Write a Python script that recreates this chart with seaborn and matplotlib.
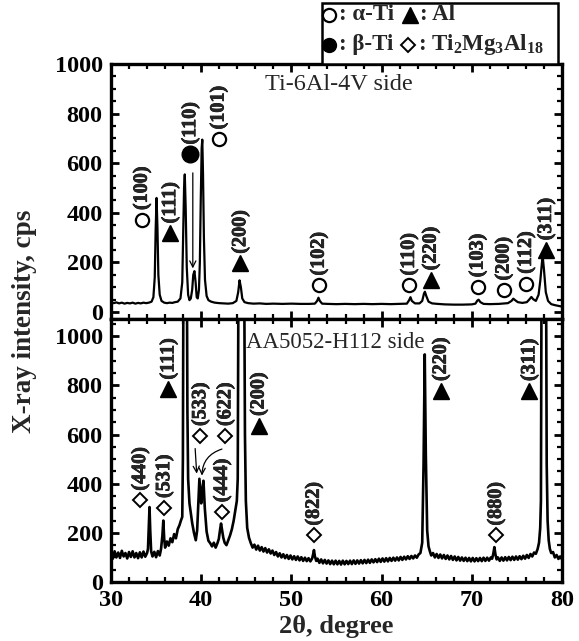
import matplotlib
matplotlib.use("Agg")
import matplotlib.pyplot as plt
from matplotlib.ticker import MultipleLocator
from matplotlib.patches import Rectangle
from matplotlib.lines import Line2D
import matplotlib.patheffects as pe
import seaborn as sns

# ---------------- data ----------------
ti_2theta = [30.0, 30.3, 30.6, 30.9, 31.2, 31.5, 31.8, 32.1, 32.4, 32.7, 33.0, 33.3, 33.6, 33.9,
             34.2, 34.5, 34.7, 34.85, 34.95, 35.05, 35.15, 35.25, 35.4, 35.6, 35.9, 36.2, 36.5,
             36.8, 37.1, 37.4, 37.7, 37.9, 38.0, 38.1, 38.18, 38.28, 38.4, 38.55, 38.7, 38.85,
             39.0, 39.12, 39.25, 39.38, 39.5, 39.62, 39.75, 39.85, 39.95, 40.05, 40.12, 40.2,
             40.3, 40.42, 40.6, 40.8, 41.1, 41.5, 42.0, 42.5, 43.0, 43.5, 43.9, 44.1, 44.25,
             44.4, 44.55, 44.8, 45.2, 45.8, 46.5, 47.2, 48.0, 49.0, 50.0, 51.0, 52.0, 52.6,
             52.85, 53.0, 53.15, 53.4, 54.0, 55.0, 56.0, 57.0, 58.0, 59.0, 60.0, 61.0, 62.0,
             62.8, 63.05, 63.2, 63.35, 63.7, 64.2, 64.5, 64.7, 64.8, 64.95, 65.2, 65.6, 66.2,
             67.0, 68.0, 69.0, 70.0, 70.4, 70.6, 70.75, 70.95, 71.3, 72.0, 73.0, 74.0, 74.4,
             74.6, 74.8, 75.1, 75.6, 76.1, 76.4, 76.6, 76.8, 77.1, 77.4, 77.6, 77.8, 77.88,
             78.0, 78.2, 78.45, 78.8, 79.2, 79.6, 80.0]
ti_counts = [40, 36, 39, 35, 38, 34, 37, 35, 38, 34, 37, 35, 38, 36,
             38, 42, 60, 140, 330, 460, 340, 150, 70, 45, 38, 36, 38,
             37, 40, 42, 55, 120, 300, 500, 555, 420, 180, 70, 48, 55,
             90, 150, 165, 120, 60, 55, 90, 200, 450, 660, 695, 560,
             300, 130, 65, 48, 42, 38, 36, 35, 34, 36, 45, 80, 128,
             100, 55, 40, 36, 34, 35, 33, 34, 33, 34, 33, 33, 34,
             45, 58, 45, 34, 33, 32, 33, 32, 33, 32, 33, 32, 33,
             34, 48, 60, 45, 35, 35, 45, 75, 82, 65, 42, 35, 33,
             31, 30, 30, 31, 34, 46, 50, 40, 33, 32, 33, 36, 45,
             54, 48, 40, 37, 40, 52, 61, 52, 45, 70, 130, 210, 216,
             170, 80, 45, 32, 28, 25, 22]

aa_2theta = [30.0, 30.2, 30.4, 30.6, 30.8, 31.0, 31.2, 31.4, 31.6, 31.8, 32.0, 32.2, 32.4, 32.6,
             32.8, 33.0, 33.2, 33.4, 33.6, 33.8, 34.0, 34.1, 34.2, 34.27, 34.35, 34.45, 34.6,
             34.8, 35.0, 35.2, 35.4, 35.55, 35.7, 35.8, 35.9, 36.0, 36.2, 36.4, 36.6, 36.8,
             37.0, 37.2, 37.4, 37.6, 37.75, 37.9, 37.97, 38.02, 38.22, 38.42, 38.47, 38.55,
             38.7, 38.85, 39.0, 39.2, 39.4, 39.55, 39.7, 39.8, 39.9, 40.0, 40.1, 40.25, 40.4,
             40.6, 40.8, 41.0, 41.2, 41.4, 41.6, 41.8, 41.95, 42.1, 42.2, 42.3, 42.45, 42.6,
             42.8, 43.0, 43.2, 43.4, 43.6, 43.8, 43.95, 44.05, 44.12, 44.45, 44.78, 44.85,
             44.95, 45.1, 45.3, 45.5, 45.7, 45.9, 46.1, 46.3, 46.5, 46.7, 46.9, 47.1, 47.3,
             47.5, 47.7, 47.9, 48.1, 48.3, 48.5, 48.7, 48.9, 49.1, 49.3, 49.5, 49.7, 49.9,
             50.1, 50.3, 50.5, 50.7, 50.9, 51.1, 51.3, 51.5, 51.7, 51.9, 52.1, 52.3, 52.42,
             52.5, 52.6, 52.75, 52.9, 53.1, 53.3, 53.5, 53.7, 53.9, 54.1, 54.3, 54.5, 54.7,
             54.9, 55.1, 55.3, 55.5, 55.7, 55.9, 56.1, 56.3, 56.5, 56.7, 56.9, 57.1, 57.3,
             57.5, 57.7, 57.9, 58.1, 58.3, 58.5, 58.7, 58.9, 59.1, 59.3, 59.5, 59.7, 59.9,
             60.1, 60.3, 60.5, 60.7, 60.9, 61.1, 61.3, 61.5, 61.7, 61.9, 62.1, 62.3, 62.5,
             62.7, 62.9, 63.1, 63.3, 63.5, 63.7, 63.9, 64.1, 64.3, 64.5, 64.65, 64.78, 64.9,
             65.05, 65.2, 65.35, 65.5, 65.7, 65.9, 66.1, 66.3, 66.5, 66.7, 66.9, 67.1, 67.3,
             67.5, 67.7, 67.9, 68.1, 68.3, 68.5, 68.7, 68.9, 69.1, 69.3, 69.5, 69.7, 69.9,
             70.1, 70.3, 70.5, 70.7, 70.9, 71.1, 71.3, 71.5, 71.7, 71.9, 72.1, 72.25, 72.38,
             72.5, 72.62, 72.75, 72.9, 73.1, 73.3, 73.5, 73.7, 73.9, 74.1, 74.3, 74.5, 74.7,
             74.9, 75.1, 75.3, 75.5, 75.7, 75.9, 76.1, 76.3, 76.5, 76.7, 76.9, 77.1, 77.3,
             77.45, 77.58, 77.66, 77.72, 77.98, 78.24, 78.3, 78.4, 78.52, 78.65, 78.8, 79.0,
             79.2, 79.4, 79.6, 79.8, 80.0]
aa_counts = [115, 95, 125, 100, 120, 98, 127, 104, 118, 96, 122, 102, 125, 100,
             118, 97, 121, 100, 124, 103, 118, 135, 230, 305, 210, 125, 104,
             123, 101, 126, 108, 135, 190, 250, 175, 140, 165, 148, 178, 162,
             195, 178, 215, 232, 250, 265, 500, 1150, 3200, 1150, 700, 420,
             320, 280, 240, 200, 170, 210, 340, 420, 370, 320, 370, 412, 300,
             205, 168, 158, 145, 160, 140, 158, 175, 215, 238, 215, 180, 160,
             150, 170, 190, 215, 250, 295, 330, 420, 1150, 3200, 1150, 600,
             330, 220, 180, 158, 140, 152, 132, 148, 128, 142, 124, 138, 120,
             133, 116, 128, 110, 122, 104, 117, 100, 113, 97, 110, 94, 108,
             92, 105, 90, 104, 88, 101, 86, 99, 85, 97, 84, 96, 115,
             130, 105, 86, 95, 78, 92, 76, 90, 75, 88, 73, 87, 72,
             87, 72, 86, 71, 87, 72, 86, 73, 87, 73, 88, 74, 88,
             75, 89, 76, 90, 77, 91, 78, 92, 80, 93, 81, 95, 82,
             96, 83, 97, 84, 98, 86, 99, 87, 100, 88, 102, 90, 103,
             92, 105, 94, 106, 96, 108, 99, 112, 118, 160, 480, 926, 520,
             210, 145, 125, 108, 118, 100, 114, 98, 112, 96, 110, 94, 108,
             92, 106, 90, 104, 88, 102, 87, 100, 86, 99, 85, 98, 84,
             98, 84, 97, 85, 98, 85, 99, 86, 99, 87, 100, 95, 115,
             142, 112, 92, 100, 86, 100, 87, 101, 88, 102, 89, 103, 90,
             104, 91, 105, 93, 107, 95, 110, 98, 114, 104, 120, 115, 135,
             160, 220, 330, 1150, 3200, 1150, 480, 250, 170, 135, 118, 122,
             100, 110, 94, 104, 92]

# peak identifications (top: Ti-6Al-4V side)
ti_mark_x = [33.41, 36.56, 38.78, 41.92, 44.33, 53.03, 63.03, 65.44, 70.63, 73.52, 76.0, 78.22]
ti_mark_y = [372, 318, 636, 697, 196, 108, 108, 129, 101, 88, 115, 250]
ti_mark_phase = ["alpha", "Al", "beta", "alpha", "Al", "alpha", "alpha", "Al", "alpha", "alpha", "alpha", "Al"]
ti_mark_hkl = ["(100)", "(111)", "(110)", "(101)", "(200)", "(102)", "(110)", "(220)", "(103)", "(200)", "(112)", "(311)"]

# peak identifications (bottom: AA5052-H112 side)
aa_mark_x = [33.22, 35.89, 36.37, 39.89, 42.67, 42.3, 46.37, 52.48, 66.56, 72.67, 76.37]
aa_mark_y = [332, 302, 784, 595, 595, 285, 636, 190, 778, 190, 778]
aa_mark_phase = ["TMA", "TMA", "Al", "TMA", "TMA", "TMA", "Al", "TMA", "Al", "TMA", "Al"]
aa_mark_hkl = ["(440)", "(531)", "(111)", "(533)", "(622)", "(444)", "(200)", "(822)", "(220)", "(880)", "(311)"]

# ---------------- style ----------------
sns.set_theme(style="ticks")
plt.rcParams.update({
    "font.family": ["Liberation Serif", "DejaVu Serif"],
    "font.weight": "bold",
    "axes.linewidth": 2.4,
    "axes.edgecolor": "black",
    "xtick.direction": "in", "ytick.direction": "in",
    "xtick.top": True, "ytick.right": True,
    "xtick.major.size": 5.5, "ytick.major.size": 5.5,
    "xtick.minor.size": 3.5, "ytick.minor.size": 3.5,
    "xtick.major.width": 2.0, "ytick.major.width": 2.0,
    "xtick.minor.width": 1.6, "ytick.minor.width": 1.6,
    "xtick.color": "black", "ytick.color": "black",
    "mathtext.fontset": "custom",
    "mathtext.rm": "Liberation Serif:bold",
    "mathtext.bf": "Liberation Serif:bold",
    "mathtext.it": "Liberation Serif:bold:italic",
})

styles = {
    "alpha": dict(marker="o", ms=9.5, mfc="white", mec="black", mew=1.6),
    "beta": dict(marker="o", ms=12, mfc="black", mec="black", mew=1.0),
    "Al": dict(marker="^", ms=11, mfc="black", mec="black", mew=1.0),
    "TMA": dict(marker="D", ms=7.5, mfc="white", mec="black", mew=1.4),
}
heavy = [pe.withStroke(linewidth=0.5, foreground="black")]

fig = plt.figure(figsize=(5.79, 6.41), dpi=100)
ax_top = fig.add_axes([0.1917, 0.5023, 0.779, 0.3979])
ax_bot = fig.add_axes([0.1917, 0.0920, 0.779, 0.4103])

sns.lineplot(x=ti_2theta, y=ti_counts, ax=ax_top, color="black", linewidth=1.6,
             estimator=None, sort=False)
sns.lineplot(x=aa_2theta, y=aa_counts, ax=ax_bot, color="black", linewidth=1.9,
             estimator=None, sort=False)

tick_fs = 17.5
for ax, ylo, yhi in [(ax_top, -28, 1000), (ax_bot, 0, 1070)]:
    ax.set_xlim(30, 80)
    ax.set_ylim(ylo, yhi)
    ax.set_yticks([0, 200, 400, 600, 800, 1000])
    ax.xaxis.set_major_locator(MultipleLocator(10))
    ax.xaxis.set_minor_locator(MultipleLocator(2))
    ax.yaxis.set_minor_locator(MultipleLocator(50))
    ax.tick_params(which="both", direction="in", top=True, right=True, labelsize=tick_fs, pad=6)
    for lab in ax.get_xticklabels() + ax.get_yticklabels():
        lab.set_fontweight("bold")
    ax.set_xlabel("")
    ax.set_ylabel("")
    for s in ax.spines.values():
        s.set_linewidth(2.4)
        s.set_zorder(5)
ax_top.tick_params(labelbottom=False)
ax_bot.set_xticks([30, 40, 50, 60, 70, 80])


def annotate(ax, xs, ys, phases, labels):
    for x, y, p, lab in zip(xs, ys, phases, labels):
        ax.plot([x], [y], linestyle="none", zorder=4, clip_on=False, **styles[p])
        ax.annotate(lab, xy=(x, y), xytext=(0, 7.0), textcoords="offset points",
                    rotation=90, ha="center", va="bottom", fontsize=14.5,
                    fontweight="bold", zorder=4, path_effects=heavy)


annotate(ax_top, ti_mark_x, ti_mark_y, ti_mark_phase, ti_mark_hkl)
annotate(ax_bot, aa_mark_x, aa_mark_y, aa_mark_phase, aa_mark_hkl)

arrow_kw = dict(arrowstyle="->", lw=0.9, color="black", shrinkA=0, shrinkB=0, mutation_scale=11)
ax_top.annotate("", xy=(39.07, 176), xytext=(39.07, 561), arrowprops=arrow_kw)
ax_bot.annotate("", xy=(39.5, 441), xytext=(39.33, 543), arrowprops=arrow_kw)
ax_bot.annotate("", xy=(40.08, 433), xytext=(42.3, 541),
                arrowprops=dict(arrow_kw, connectionstyle="arc3,rad=0.35"))

ax_top.text(0.341, 0.918, "Ti-6Al-4V side", transform=ax_top.transAxes, fontsize=17.5,
            fontweight="normal", ha="left", va="center")
ax_bot.text(0.300, 0.909, "AA5052-H112 side", transform=ax_bot.transAxes, fontsize=16.5,
            fontweight="normal", ha="left", va="center")

fig.text(0.043, 0.499, "X-ray intensity, cps", rotation=90, ha="center", va="center",
         fontsize=19.5, fontweight="bold")
fig.text(0.580, 0.022, "2θ, degree", ha="center", va="center", fontsize=19, fontweight="bold")

# ---------------- legend box ----------------
fig.add_artist(Rectangle((0.5561, 0.9002), 0.4076, 0.0951, transform=fig.transFigure,
                         facecolor="white", edgecolor="black", lw=1.8, zorder=10))
leg_items = [
    (0.5675, 0.9766, "alpha", ": α-Ti"),
    (0.7081, 0.9766, "Al", ": Al"),
    (0.5675, 0.9298, "beta", ": β-Ti"),
    (0.7047, 0.9298, "TMA", r": Ti$_2$Mg$_3$Al$_{18}$"),
]
for x, y, p, txt in leg_items:
    st = dict(styles[p])
    if p == "beta":
        st["ms"] = 10
    fig.add_artist(Line2D([x], [y], transform=fig.transFigure, linestyle="none", zorder=11, **st))
    fig.text(x + 0.018, y, txt, ha="left", va="center", fontsize=16.5, fontweight="bold", zorder=11)

fig.savefig("out.png", dpi=100)
